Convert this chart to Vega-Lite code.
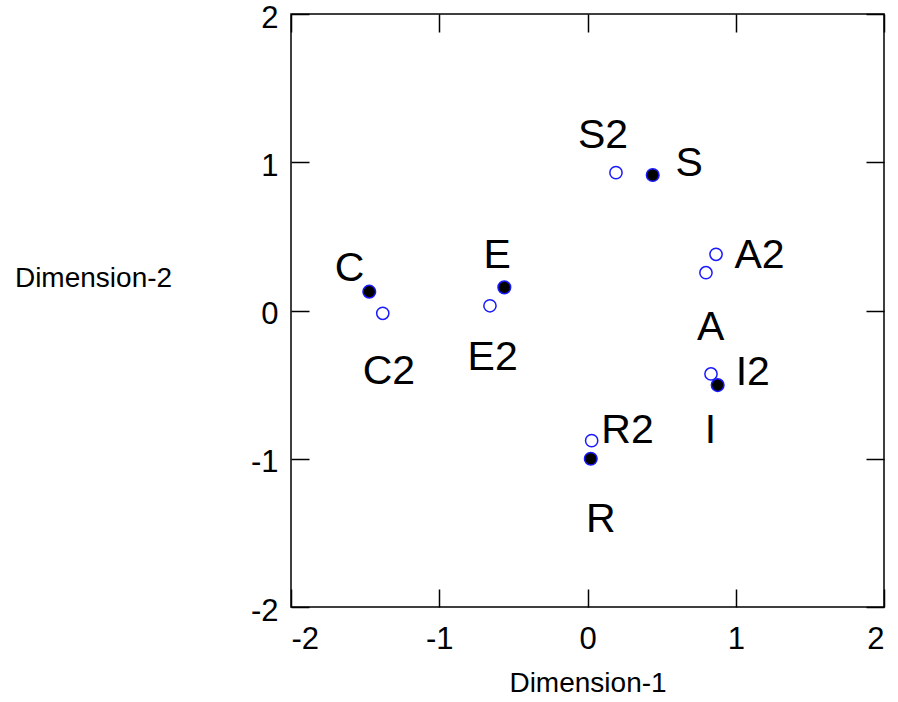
{
  "$schema": "https://vega.github.io/schema/vega-lite/v6.json",
  "autosize": {"type": "none"},
  "width": 593,
  "height": 593,
  "padding": {"left": 291, "top": 14, "right": 14, "bottom": 95},
  "background": "white",
  "config": {
    "view": {"stroke": "black", "strokeWidth": 1.5},
    "axis": {
      "grid": false,
      "domain": false,
      "ticks": true,
      "tickColor": "black",
      "tickWidth": 1.5,
      "tickSize": -18,
      "labelFont": "Liberation Sans",
      "labelFontSize": 31,
      "labelColor": "black",
      "titleFont": "Liberation Sans",
      "titleFontSize": 28,
      "titleFontWeight": "normal",
      "titleColor": "black"
    }
  },
  "data": {
    "values": [
      {"label": "S", "kind": "filled", "x": 0.44, "y": 0.914, "lx": 0.685, "ly": 0.99},
      {"label": "C", "kind": "filled", "x": -1.472, "y": 0.127, "lx": -1.605, "ly": 0.28},
      {"label": "E", "kind": "filled", "x": -0.561, "y": 0.156, "lx": -0.61, "ly": 0.37},
      {"label": "I", "kind": "filled", "x": 0.878, "y": -0.503, "lx": 0.83, "ly": -0.81},
      {"label": "R", "kind": "filled", "x": 0.022, "y": -1.0, "lx": 0.09, "ly": -1.415},
      {"label": "A", "kind": "open", "x": 0.799, "y": 0.255, "lx": 0.83, "ly": -0.12},
      {"label": "S2", "kind": "open", "x": 0.192, "y": 0.93, "lx": 0.105, "ly": 1.18},
      {"label": "A2", "kind": "open", "x": 0.867, "y": 0.379, "lx": 1.16, "ly": 0.37},
      {"label": "C2", "kind": "open", "x": -1.381, "y": -0.019, "lx": -1.34, "ly": -0.415},
      {"label": "E2", "kind": "open", "x": -0.658, "y": 0.032, "lx": -0.64, "ly": -0.32},
      {"label": "I2", "kind": "open", "x": 0.833, "y": -0.428, "lx": 1.115, "ly": -0.42},
      {"label": "R2", "kind": "open", "x": 0.028, "y": -0.878, "lx": 0.27, "ly": -0.81}
    ]
  },
  "resolve": {"axis": {"x": "independent", "y": "independent"}},
  "layer": [
    {
      "transform": [{"filter": "datum.kind === 'open'"}],
      "mark": {"type": "point", "shape": "circle", "size": 150, "filled": false, "stroke": "#1a1aff", "strokeWidth": 1.5, "fill": "white", "fillOpacity": 1, "opacity": 1},
      "encoding": {
        "x": {"field": "x", "type": "quantitative", "scale": {"domain": [-2, 2], "nice": false, "zero": false},
              "axis": {"orient": "bottom", "values": [-2, -1, 0, 1, 2], "labelExpr": "'' + datum.value", "labelPadding": 35, "labelBaseline": "top", "title": "Dimension-1", "titleY": 76, "titleBaseline": "middle"}},
        "y": {"field": "y", "type": "quantitative", "scale": {"domain": [-2, 2], "nice": false, "zero": false},
              "axis": {"orient": "left", "values": [-2, -1, 0, 1, 2], "labelExpr": "'' + datum.value", "labelPadding": 31, "labelOffset": 4, "title": "Dimension-2", "titleAngle": 0, "titleX": -198, "titleY": 264, "titleAlign": "center", "titleBaseline": "middle"}}
      }
    },
    {
      "transform": [{"filter": "datum.kind === 'filled'"}],
      "mark": {"type": "point", "shape": "circle", "size": 160, "filled": true, "fill": "black", "stroke": "#1a1aff", "strokeWidth": 1.5, "opacity": 1},
      "encoding": {
        "x": {"field": "x", "type": "quantitative", "scale": {"domain": [-2, 2], "nice": false, "zero": false},
              "axis": {"orient": "top", "values": [-2, -1, 0, 1, 2], "labels": false, "title": null}},
        "y": {"field": "y", "type": "quantitative", "scale": {"domain": [-2, 2], "nice": false, "zero": false},
              "axis": {"orient": "right", "values": [-2, -1, 0, 1, 2], "labels": false, "title": null}}
      }
    },
    {
      "mark": {"type": "text", "font": "Liberation Sans", "fontSize": 41, "color": "black", "align": "center", "baseline": "middle"},
      "encoding": {
        "x": {"field": "lx", "type": "quantitative", "scale": {"domain": [-2, 2], "nice": false, "zero": false}, "axis": null},
        "y": {"field": "ly", "type": "quantitative", "scale": {"domain": [-2, 2], "nice": false, "zero": false}, "axis": null},
        "text": {"field": "label"}
      }
    }
  ]
}
